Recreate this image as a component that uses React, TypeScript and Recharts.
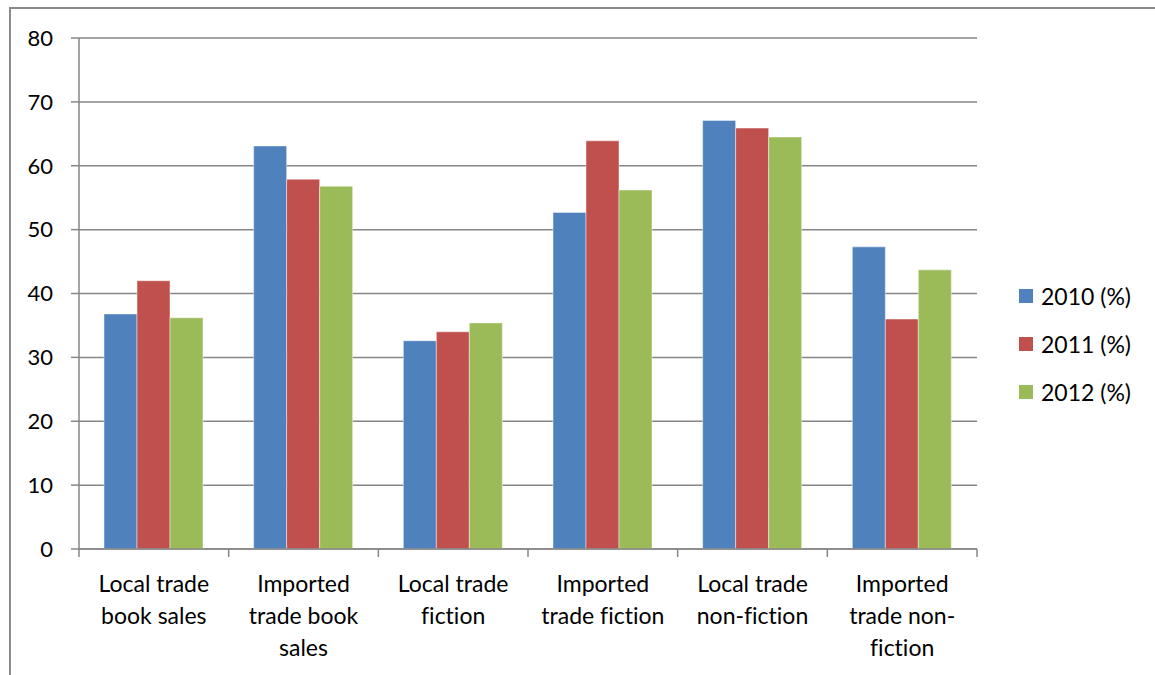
import { Bar, BarChart, CartesianGrid, XAxis, YAxis } from "recharts";

const categories = [
  "Local trade book sales",
  "Imported trade book sales",
  "Local trade fiction",
  "Imported trade fiction",
  "Local trade non-fiction",
  "Imported trade non-fiction",
];
// how Excel wrapped each category label
const categoryLines = [
  ["Local trade", "book sales"],
  ["Imported", "trade book", "sales"],
  ["Local trade", "fiction"],
  ["Imported", "trade fiction"],
  ["Local trade", "non-fiction"],
  ["Imported", "trade non-", "fiction"],
];
const values2010 = [36.8, 63.1, 32.6, 52.7, 67.1, 47.3];
const values2011 = [42.0, 57.9, 34.0, 63.9, 65.9, 36.0];
const values2012 = [36.2, 56.8, 35.4, 56.2, 64.5, 43.7];
const seriesNames = ["2010 (%)", "2011 (%)", "2012 (%)"];
const seriesColors = ["#4F81BD", "#C0504D", "#9BBB59"];
const yTicks = [0, 10, 20, 30, 40, 50, 60, 70, 80];

const data = categories.map((name, i) => ({
  name,
  s2010: values2010[i],
  s2011: values2011[i],
  s2012: values2012[i],
}));
const seriesKeys = ["s2010", "s2011", "s2012"];

const FONT = "Lato, 'Open Sans', sans-serif";
const GRID = "#868686";

const CategoryTick = (props: any) => {
  const { x, y, payload, index } = props;
  const half = payload.offset || 74.8;
  const lines = categoryLines[payload.index ?? index] || [payload.value];
  const isLast = (payload.index ?? index) === categories.length - 1;
  return (
    <g>
      <line x1={x - half} x2={x - half} y1={y} y2={y + 8} stroke={GRID} strokeWidth={1.5} />
      {isLast && (
        <line x1={x + half} x2={x + half} y1={y} y2={y + 8} stroke={GRID} strokeWidth={1.5} />
      )}
      <text
        textAnchor="middle"
        fontFamily={FONT}
        fontSize={23}
        fill="#000"
        style={{ fontVariantLigatures: "none" }}
      >
        {lines.map((l: string, k: number) => (
          <tspan key={k} x={x} y={y + 43 + k * 32}>
            {l}
          </tspan>
        ))}
      </text>
    </g>
  );
};

export default function App() {
  return (
    <div style={{ position: "absolute", left: 0, top: 0, width: 1155, height: 675, background: "#fff", overflow: "hidden" }}>
      <div
        style={{
          position: "absolute",
          left: 9,
          top: 7,
          width: 1200,
          height: 700,
          borderTop: "2px solid #8a8a8a",
          borderLeft: "2px solid #8a8a8a",
        }}
      />
      <div style={{ position: "absolute", left: 0, top: 0 }}>
        <BarChart
          width={1155}
          height={675}
          data={data}
          margin={{ top: 38, right: 178, left: 0, bottom: 6 }}
          barCategoryGap={25}
          barGap={0}
        >
          <CartesianGrid vertical={false} stroke={GRID} strokeWidth={1.5} />
          <XAxis
            dataKey="name"
            height={120}
            interval={0}
            tickLine={false}
            tickSize={0}
            tickMargin={0}
            axisLine={{ stroke: GRID, strokeWidth: 1.5 }}
            tick={<CategoryTick />}
          />
          <YAxis
            width={79}
            domain={[0, 80]}
            ticks={yTicks}
            interval={0}
            tickSize={8}
            tickMargin={18}
            tickLine={{ stroke: GRID, strokeWidth: 1.5 }}
            axisLine={{ stroke: GRID, strokeWidth: 1.5 }}
            tick={{ fontFamily: FONT, fontSize: 22, fill: "#000" }}
          />
          {seriesKeys.map((k, i) => (
            <Bar
              key={k}
              dataKey={k}
              name={seriesNames[i]}
              fill={seriesColors[i]}
              stroke="rgba(255,255,255,0.45)"
              strokeWidth={1}
              isAnimationActive={false}
            />
          ))}
        </BarChart>
      </div>
      {seriesNames.map((n, i) => (
        <div
          key={n}
          style={{
            position: "absolute",
            left: 1019,
            top: 296 + i * 48 - 15,
            height: 30,
            display: "flex",
            alignItems: "center",
            fontFamily: FONT,
            fontSize: 23,
            color: "#000",
            whiteSpace: "nowrap",
          }}
        >
          <span style={{ display: "inline-block", width: 14, height: 14, background: seriesColors[i], marginRight: 8 }} />
          {n}
        </div>
      ))}
    </div>
  );
}
